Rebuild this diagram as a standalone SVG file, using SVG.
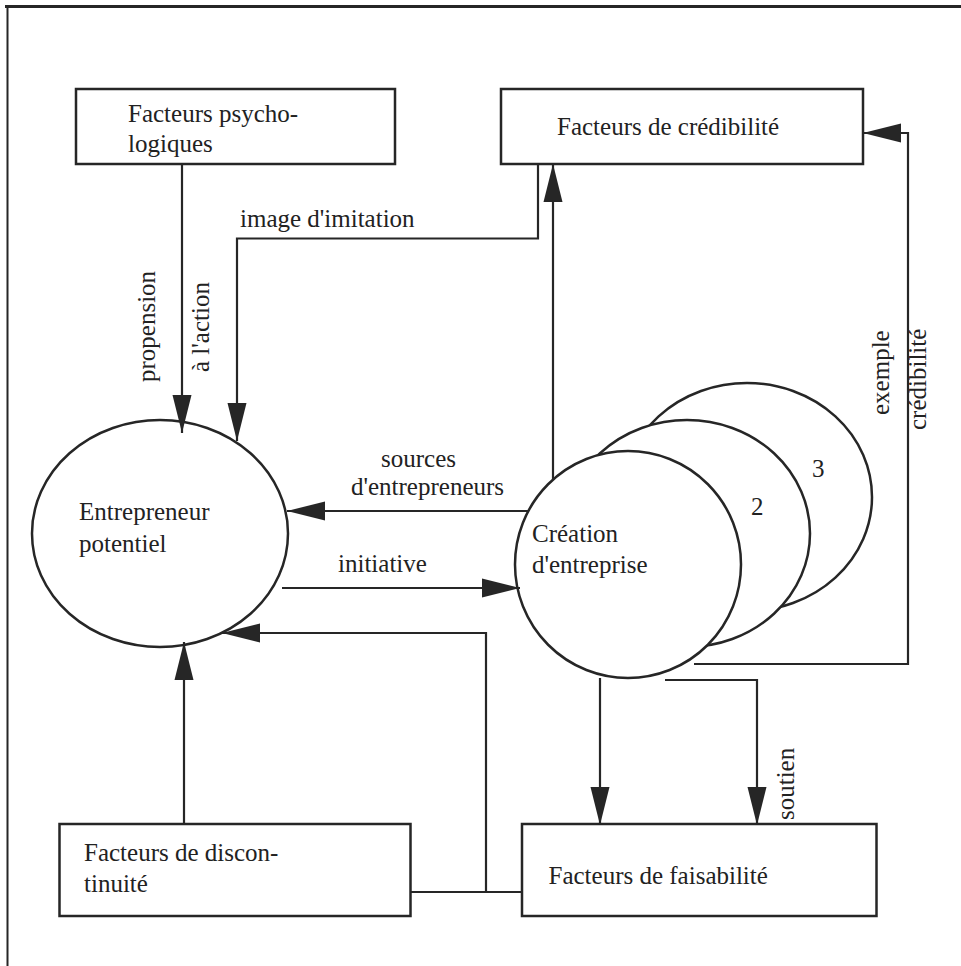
<svg xmlns="http://www.w3.org/2000/svg" width="961" height="966" viewBox="0 0 961 966">
  <style>
    text { font-family: "Liberation Serif", "Times New Roman", serif; font-size: 25px; fill: #222; }
    .box { fill: #fff; stroke: #262626; stroke-width: 2.5; }
    .node { fill: #fff; stroke: #262626; stroke-width: 2.5; }
    .wire { fill: none; stroke: #262626; stroke-width: 2.2; stroke-linecap: butt; stroke-linejoin: miter; }
    .arrow { marker-end: url(#head); }
  </style>
  <defs>
    <marker id="head" markerUnits="userSpaceOnUse" markerWidth="38" markerHeight="20" viewBox="0 0 36 18" refX="36" refY="9" orient="auto">
      <path d="M0,0 L36,9 L0,18 Z" fill="#262626"/>
    </marker>
  </defs>

  <rect width="961" height="966" fill="#fff"/>

  <!-- frame: top and left rules -->
  <g id="frame" fill="none" stroke="#262626">
    <line x1="5" y1="6.5" x2="961" y2="6.5" stroke-width="3"/>
    <line x1="7.5" y1="5" x2="7.5" y2="966" stroke-width="2"/>
  </g>

  <!-- stacked company circles (back to front) -->
  <g id="creation-3">
    <ellipse class="node" cx="747" cy="497" rx="125" ry="114"/>
    <text x="812" y="477">3</text>
  </g>
  <g id="creation-2">
    <ellipse class="node" cx="687" cy="533.5" rx="123" ry="113.5"/>
    <text x="751" y="515">2</text>
  </g>
  <g id="creation">
    <ellipse class="node" cx="628" cy="564.5" rx="113" ry="113.5"/>
    <text x="532" y="542">Création</text>
    <text x="532" y="573">d'entreprise</text>
  </g>

  <g id="entrepreneur">
    <ellipse class="node" cx="160" cy="533.5" rx="128" ry="113.5"/>
    <text x="79" y="520">Entrepreneur</text>
    <text x="79" y="552">potentiel</text>
  </g>

  <g id="psycho">
    <rect class="box" x="76" y="89" width="319" height="75"/>
    <text x="128" y="122">Facteurs psycho-</text>
    <text x="128" y="152">logiques</text>
  </g>

  <g id="credibilite">
    <rect class="box" x="501" y="89" width="362" height="75"/>
    <text x="557" y="135">Facteurs de crédibilité</text>
  </g>

  <g id="discontinuite">
    <rect class="box" x="59.5" y="824" width="351" height="92"/>
    <text x="84" y="861">Facteurs de discon-</text>
    <text x="84" y="892">tinuité</text>
  </g>

  <g id="faisabilite">
    <rect class="box" x="522" y="824" width="354.5" height="92"/>
    <text x="548.5" y="884">Facteurs de faisabilité</text>
  </g>

  <!-- connectors -->
  <g id="connectors">
    <!-- propension à l'action -->
    <path class="wire arrow" d="M182,164 V433"/>
    <!-- image d'imitation -->
    <path class="wire arrow" d="M538,164 V238.5 H237 V441"/>
    <!-- création -> crédibilité -->
    <path class="wire arrow" d="M553,480 V164"/>
    <!-- sources d'entrepreneurs -->
    <path class="wire arrow" d="M528,511 H287"/>
    <!-- initiative -->
    <path class="wire arrow" d="M282,588 H520"/>
    <!-- exemple / crédibilité loop -->
    <path class="wire arrow" d="M694,664 H908 V133 H863"/>
    <!-- création -> faisabilité -->
    <path class="wire arrow" d="M600,678 V825"/>
    <!-- soutien -->
    <path class="wire arrow" d="M665,680 H757 V825"/>
    <!-- discontinuité -> entrepreneur -->
    <path class="wire arrow" d="M184,824 V642"/>
    <!-- discontinuité / faisabilité -> entrepreneur -->
    <path class="wire" d="M410.5,892 H522"/>
    <path class="wire arrow" d="M486,892 V633 H222"/>
  </g>

  <!-- connector labels -->
  <g id="labels">
    <text x="240" y="227">image d'imitation</text>
    <text x="381" y="467">sources</text>
    <text x="351" y="495">d'entrepreneurs</text>
    <text x="338" y="572">initiative</text>
    <text transform="translate(155,382) rotate(-90)">propension</text>
    <text transform="translate(209,372) rotate(-90)">à l'action</text>
    <text transform="translate(889,415) rotate(-90)">exemple</text>
    <text transform="translate(926,430) rotate(-90)">crédibilité</text>
    <text transform="translate(794,820) rotate(-90)">soutien</text>
  </g>
</svg>
